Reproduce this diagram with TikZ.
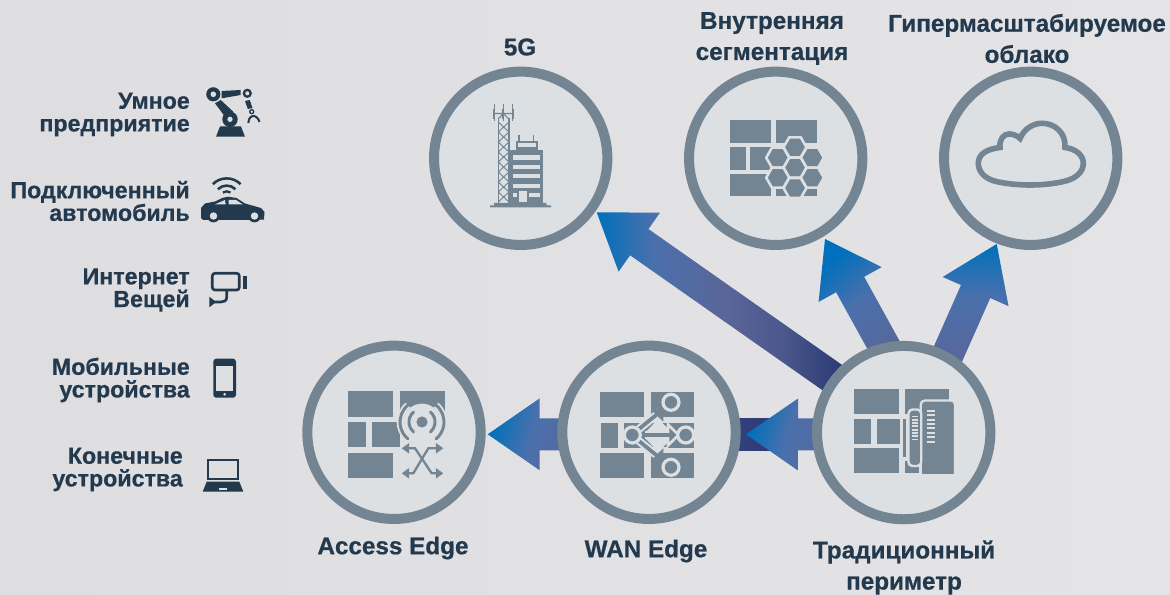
\documentclass[tikz,border=0pt]{standalone}
\usepackage{fontspec}
\setmainfont[BoldFeatures={FakeBold=0.6}]{Liberation Sans}
\usetikzlibrary{calc,arrows.meta}
\definecolor{bgL}{HTML}{DEDEE0}
\definecolor{bgR}{HTML}{E4E4E6}
\definecolor{disc}{HTML}{DDE0E3}
\definecolor{ringc}{HTML}{738593}
\definecolor{ink}{HTML}{23394D}
\definecolor{blueA}{HTML}{0070BC}
\definecolor{midA}{HTML}{4A70AC}
\definecolor{purA}{HTML}{5A6598}
\definecolor{navy}{HTML}{2B3A75}
\pgfdeclarehorizontalshading{arrA}{100bp}{color(0bp)=(blueA); color(25bp)=(blueA); color(45bp)=(midA); color(72bp)=(purA); color(100bp)=(purA)}
\pgfdeclarehorizontalshading{arrB}{100bp}{color(0bp)=(blueA); color(25bp)=(blueA); color(36bp)=(midA); color(50bp)=(purA); color(61bp)=(purA!70!navy); color(73bp)=(navy); color(100bp)=(navy)}
\tikzset{
  x=0.75pt,y=-0.75pt,
  ring/.style={circle,draw=ringc,fill=disc,line width=7.5pt,minimum size=130pt,inner sep=0pt},
  head/.style={font=\bfseries\fontsize{18.2}{23.3}\selectfont,text=ink,align=center,inner sep=0pt},
  side/.style={font=\bfseries\fontsize{17.4}{17}\selectfont,text=ink,align=right,inner sep=0pt,anchor=east},
  ic/.style={fill=ringc,draw=none},
  lt/.style={fill=disc,draw=none},
  dk/.style={fill=ink,draw=none},
  hexa/.style={fill=ringc,draw=disc,line width=1.9pt,line join=miter}
}
\newcommand{\blockarrow}[4]{%
  \coordinate (bs) at ($(#2)!39pt!(#1)$);
  \shade[shading=#3,shading angle=#4] (#2) -- ($(bs)!27pt!90:(#2)$) -- ($(bs)!12pt!90:(#2)$) -- ($(#1)!12pt!90:(#2)$) -- ($(#1)!12pt!-90:(#2)$) -- ($(bs)!12pt!-90:(#2)$) -- ($(bs)!27pt!-90:(#2)$) -- cycle;
}
\newcommand{\hexcell}[2]{\draw[hexa] (#1-11.5,#2) -- ++(5.75,-10) -- ++(11.5,0) -- ++(5.75,10) -- ++(-5.75,10) -- ++(-11.5,0) -- cycle;}
\begin{document}
\begin{tikzpicture}
\useasboundingbox (0,0) rectangle (1170,595);
\shade[left color=bgL,right color=bgR] (0,0) rectangle (1170,595);

% coordinates for layout only
\coordinate (pg5) at (520.7,158.3);
\coordinate (pseg) at (775.7,158.3);
\coordinate (pcl) at (1030.7,158.3);
\coordinate (pac) at (394,432.3);
\coordinate (pwan) at (649,432.3);
\coordinate (ptr) at (903.7,432.6);

% arrows
\coordinate (tipg) at (596.7,212.3);
\coordinate (tips) at (825,239);
\coordinate (tipc) at (996.7,244);
\coordinate (tipa) at (487.7,434.3);
\coordinate (tipw) at (746,434.3);
\coordinate (tailg) at ($(ptr)+(-60,-47)$);
\coordinate (tails) at ($(ptr)+(-3.7,-57.7)$);
\coordinate (tailc) at ($(ptr)+(36.3,-60.7)$);
\coordinate (taila) at ($(pwan)+(-55,2)$);
\coordinate (tailw) at ($(ptr)+(-55,2)$);
\blockarrow{tailg}{tipg}{arrB}{0}
\blockarrow{tails}{tips}{arrA}{-50}
\blockarrow{tailc}{tipc}{arrA}{-90}
\shade[left color=purA!60!navy,right color=navy] ($(pwan)+(0,-14)$) rectangle ($(ptr)+(-130,17.7)$);
\blockarrow{taila}{tipa}{arrA}{-15}
\blockarrow{tailw}{tipw}{arrA}{-15}

% circles
\node[ring] (g5) at (pg5) {};
\node[ring] (seg) at (pseg) {};
\node[ring] (cloud) at (pcl) {};
\node[ring] (access) at (pac) {};
\node[ring] (wan) at (pwan) {};
\node[ring] (trad) at (ptr) {};

% 5G icon
\draw[ringc,line width=.9pt] (498.3,118) -- (498.3,203) (509,118) -- (509,203);
\foreach \yy in {122,132,...,192}{
  \draw[ringc,line width=.7pt] (498.3,\yy) -- (509,\yy+10) (509,\yy) -- (498.3,\yy+10);
}
\draw[ringc,line width=.7pt] (494.3,104) -- (494.3,121) (503.3,104) -- (503.3,121) (512.7,104) -- (512.7,121);
\draw[ringc,line width=1.6pt] (494.3,109.5) -- (494.3,119) (503.3,109.5) -- (503.3,119) (512.7,109.5) -- (512.7,119);
\draw[ringc,line width=.8pt] (494.3,113.5) -- (512.7,113.5) (498.3,119) -- (503.3,113.5) -- (509,119);
\fill[ic] (510,150) rectangle (543,203);
\fill[ic] (515.7,141) rectangle (537.7,150);
\fill[lt] (517.5,143.3) rectangle (536,147.5);
\draw[ringc,line width=1.1pt] (519,135) -- (519,141) (533.7,135) -- (533.7,141);
\fill[lt] (513,155) rectangle (540,160);
\fill[lt] (513,164.7) rectangle (540,169);
\fill[lt] (513,174.2) rectangle (540,178.5);
\fill[lt] (513,183.7) rectangle (540,188);
\fill[lt] (513,193.3) rectangle (517,197.3);
\fill[lt] (529,193.3) rectangle (540,197.3);
\fill[lt] (518.7,191) rectangle (527.3,201.7);
\fill[ic] (494,203) -- (546,203) -- (547,205.5) -- (551,205.5) -- (551,207.5) -- (490,207.5) -- (490,205.5) -- (494,205.5) -- cycle;

% segmentation icon
\fill[ic] (730,120) rectangle (771,143);
\fill[ic] (776,120) rectangle (816.7,143);
\fill[ic] (730,147) rectangle (746,170);
\fill[ic] (750.3,147) rectangle (772,170);
\fill[ic] (730,174) rectangle (771,196.3);
\fill[ic] (776,186) rectangle (816.7,196.3);
\begin{scope}
\clip (720,130) rectangle (830,196.3);
\hexcell{795}{147.3}
\hexcell{777.7}{157.7}
\hexcell{812.3}{157.7}
\hexcell{795}{167.7}
\hexcell{777.7}{177.7}
\hexcell{812.3}{177.7}
\hexcell{795}{188}
\end{scope}

% cloud icon
\draw[ringc,line width=4.2pt,line join=miter] (978.3,163.3) .. controls (978.3,154) and (987,149) .. (1000,147.5)
 .. controls (999,139) and (1004,134) .. (1009,134) .. controls (1013,134) and (1017,135.5) .. (1020,138.5)
 .. controls (1024,129) and (1033,123.3) .. (1042,123.3) .. controls (1055,123.3) and (1066,133) .. (1065,147.5)
 .. controls (1077,149) and (1083.3,156) .. (1083.3,163.3) .. controls (1083.3,172) and (1076,178) .. (1066.7,180.7)
 .. controls (1055,184) and (1040,185) .. (1030,185) .. controls (1020,185) and (1005,184) .. (993.3,180.7)
 .. controls (985,178) and (978.3,172) .. (978.3,163.3) -- cycle;

% access icon
\fill[ic] (348,391) rectangle (393,417);
\fill[ic] (400,391) rectangle (445.3,417);
\fill[ic] (348,422) rectangle (366,447);
\fill[ic] (372.3,422) rectangle (402,447);
\fill[ic] (348,452.7) rectangle (393,477.7);
\fill[lt] (422,423) circle[radius=14.5pt];
\draw[disc,line width=5pt] (422,422) ++(130:16.5pt) arc[start angle=130,end angle=230,radius=16.5pt];
\draw[disc,line width=5pt] (422,422) ++(50:16.5pt) arc[start angle=50,end angle=-50,radius=16.5pt];
\fill[lt] (400,417) rectangle (445.3,447);
\fill[ic] (422,422) circle[radius=4.2pt];
\foreach \rr in {9.8,16.5}{
  \draw[ringc,line width=2.2pt,line cap=round] (422,422) ++(130:\rr pt) arc[start angle=130,end angle=230,radius=\rr pt];
  \draw[ringc,line width=2.2pt,line cap=round] (422,422) ++(50:\rr pt) arc[start angle=50,end angle=-50,radius=\rr pt];
}
\draw[ringc,line width=1.7pt,{Triangle[length=5.5pt,width=7.5pt]}-{Triangle[length=5.5pt,width=7.5pt]}] (401.7,448.3) -- (415,448.3) -- (431.7,473.3) -- (443.3,473.3);
\draw[ringc,line width=1.7pt,{Triangle[length=5.5pt,width=7.5pt]}-{Triangle[length=5.5pt,width=7.5pt]}] (443.3,448.3) -- (428.3,448.3) -- (413.3,473.3) -- (401.7,473.3);

% WAN icon
\fill[ic] (600,392) rectangle (644,417);
\fill[ic] (650.7,392) rectangle (694,417);
\fill[ic] (601,423) rectangle (618,448);
\fill[ic] (624,423) rectangle (694,448);
\fill[ic] (600,453.3) rectangle (644,478);
\fill[ic] (650.7,453.3) rectangle (694,478);
\fill[lt] (650.7,417) rectangle (668,423);
\fill[lt] (650.7,447) rectangle (668,453.3);
\fill[lt] (646,431.7) -- (658.3,419) -- (671,431.7) -- cycle;
\fill[lt] (646,439) -- (671,439) -- (658.3,452) -- cycle;
\draw[disc,line width=6pt] (639,429) -- (660,412);
\draw[disc,line width=6pt] (639,441) -- (660,458);
\draw[disc,line width=5.5pt] (645,435) -- (675,435);
\draw[disc,line width=2pt,fill=ringc,line join=miter] (668,424.5) -- (678.5,435) -- (668,445.5) -- cycle;
\draw[ringc,line width=2.8pt] (639,429) -- (658,413.5);
\draw[ringc,line width=2.8pt] (639,441) -- (658,456.5);
\draw[ringc,line width=2.8pt] (642,435) -- (670,435);
\fill[ic] (663.3,408.5) -- (651.2,410) -- (663.3,421.7) -- cycle;
\fill[ic] (663.3,461.5) -- (651.2,460) -- (663.3,448.3) -- cycle;
\foreach \cx/\cy in {632.3/435,685.7/435,671/402.3,671/467.3}{
  \draw[disc,line width=2.4pt,fill=ringc] (\cx,\cy) circle[radius=6pt];
}

% traditional icon
\fill[ic] (854,389) rectangle (899,414);
\fill[ic] (905,389) rectangle (949.3,414);
\fill[ic] (854,419) rectangle (870.7,444);
\fill[ic] (877,419) rectangle (900,444);
\fill[ic] (854,448) rectangle (899,473);
\fill[ic] (905,461) rectangle (919,473);
\fill[ic] (903,419) rectangle (906,457);
\draw[disc,line width=1.7pt,fill=ringc,rounded corners=3pt] (920.7,480) -- (920.7,400.5) -- (955,400.5) -- (955,480);
\fill[disc] (918,473.7) rectangle (957,482);
\draw[disc,line width=1.8pt,fill=ringc,rounded corners=3pt] (908.5,409.5) rectangle (921.2,466);
\foreach \yy in {409.7,414.1,...,441}{\fill[lt] (926.7,\yy) rectangle (935,\yy+2);}
\foreach \yy in {415.5,418.8,...,439.5}{\fill[lt] (911.7,\yy) rectangle (918.3,\yy+1.8);}

% device icons
% robot
\fill[dk] (220,126.5) -- (241,126.5) -- (245,136.7) -- (216,136.7) -- cycle;
\fill[dk] (215,103.3) -- (220.7,100) -- (233.3,111.7) -- (225,116.7) -- cycle;
\fill[dk] (221.7,91) -- (240.7,90) -- (240.7,95) -- (221.7,98.3) -- cycle;
\fill[dk] (230,119.3) circle[radius=5.8pt];
\fill[lt] (230,119.3) circle[radius=2pt];
\fill[dk] (213.3,94.3) circle[radius=5.3pt];
\fill[lt] (213.3,94.3) circle[radius=2.1pt];
\fill[dk] (247.3,93.3) circle[radius=3.5pt];
\fill[lt] (247.3,93.3) circle[radius=1.5pt];
\fill[dk] (245,101) -- (249.8,100) -- (252.5,108) -- (247.8,109) -- cycle;
\draw[ink,line width=1pt] (251.7,111.7) circle[radius=1.5pt];
\draw[ink,line width=1.5pt] (248.3,123) .. controls (248.5,117) and (252,116) .. (253.5,116) .. controls (255.5,116) and (258.5,118) .. (259.5,122);
% car
\fill[dk] (201,218) -- (201,208) -- (205,203.5) -- (215,201.5) -- (222,198) -- (228,196.7) -- (236.5,198) -- (245,203.5) -- (261,208) -- (264.5,212) -- (264,219.5) -- (255,220) -- (203,220) -- cycle;
\fill[lt] (214.5,204.5) -- (225,200) -- (225.7,204.5) -- cycle;
\fill[lt] (228.5,200) -- (236,200) -- (243,204.5) -- (228.5,204.5) -- cycle;
\foreach \wx in {213.5,254.5}{
  \fill[dk] (\wx,216) circle[radius=4.8pt];
  \fill[disc] (\wx,216) circle[radius=2.8pt];
}
\draw[ink,line width=1.9pt] (226.7,198) ++(135:14.7pt) arc[start angle=135,end angle=45,radius=14.7pt];
\draw[ink,line width=1.9pt] (226.7,198) ++(135:9.3pt) arc[start angle=135,end angle=45,radius=9.3pt];
\draw[ink,line width=1.7pt] (226.7,198) ++(125:5pt) arc[start angle=125,end angle=55,radius=5pt];
% camera
\draw[ink,line width=2pt,rounded corners=2pt] (212.3,273.3) rectangle (239.3,290);
\fill[dk] (243,276) rectangle (247,288.7);
\draw[ink,line width=2pt] (226.7,291) -- (226.7,297) .. controls (226.7,301) and (224,302) .. (221,302) -- (213,302);
\fill[dk] (209.3,296.7) -- (209.3,307.3) -- (216,302) -- cycle;
% phone
\fill[dk,rounded corners=2.2pt] (213.3,358.7) rectangle (236,397.7);
\fill[disc] (216,365.7) rectangle (233.3,391);
\fill[disc] (224.7,394.3) circle[radius=1.1pt];
% laptop
\draw[ink,line width=1.7pt] (207.7,460) rectangle (238.3,479);
\fill[dk] (206.7,481.7) -- (239.3,481.7) -- (243.3,491.7) -- (202.7,491.7) -- cycle;
\fill[lt] (219.3,488.3) rectangle (226.7,490);

% texts
\node[head] (t5g) at (520,47) {5G};
\node[head] (tseg) at (772,38.5) {Внутренняя\\сегментация};
\node[head] (tcl) at (1027,38.5) {Гипермасштабируемое\\облако};
\node[head] (tac) at (393,548) {Access Edge};
\node[head] (twn) at (646,551) {WAN Edge};
\node[head] (ttr) at (904,567.5) {Традиционный\\периметр};
\node[side] (l1) at (190,114.5) {Умное\\предприятие};
\node[side] (l2) at (190,201) {Подключенный\\автомобиль};
\node[side] (l3) at (190,290) {Интернет\\Вещей};
\node[side] (l4) at (190,380) {Мобильные\\устройства};
\node[side] (l5) at (183,469.5) {Конечные\\устройства};
\end{tikzpicture}
\end{document}
